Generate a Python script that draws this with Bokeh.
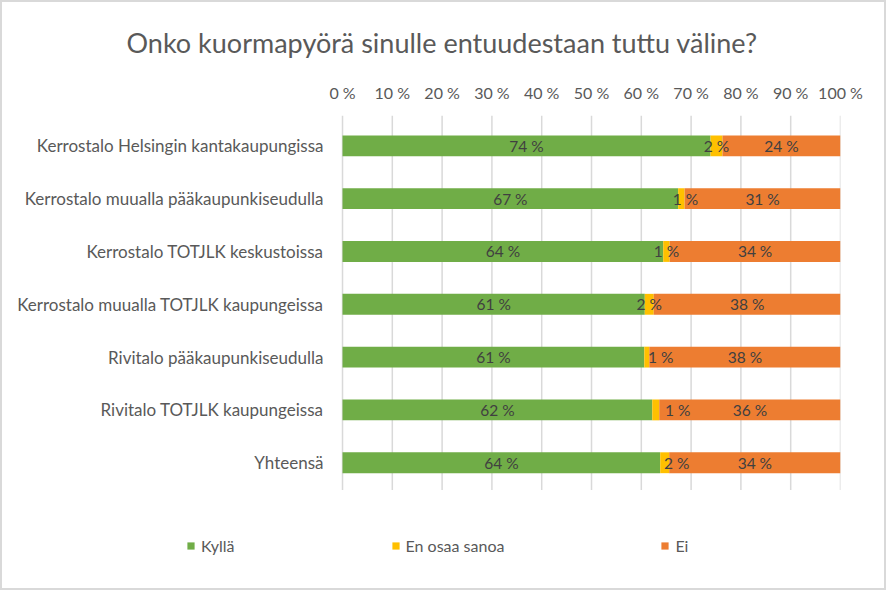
from bokeh.plotting import figure
from bokeh.models import (ColumnDataSource, Legend, LegendItem,
                          FixedTicker, Range1d)
from bokeh.core.properties import value
from bokeh.embed import file_html
from bokeh.resources import INLINE

# ---- data ----
title_text = "Onko kuormapyörä sinulle entuudestaan tuttu väline?"
categories = [
    "Kerrostalo Helsingin kantakaupungissa",
    "Kerrostalo muualla pääkaupunkiseudulla",
    "Kerrostalo TOTJLK keskustoissa",
    "Kerrostalo muualla TOTJLK kaupungeissa",
    "Rivitalo pääkaupunkiseudulla",
    "Rivitalo TOTJLK kaupungeissa",
    "Yhteensä",
]
kylla = [73.9, 67.4, 64.4, 60.7, 60.6, 62.2, 63.8]
eos = [2.4, 1.3, 1.3, 1.8, 1.0, 1.4, 1.8]
ei = [23.7, 31.3, 34.3, 37.5, 38.4, 36.4, 34.4]
series_names = ["Kyllä", "En osaa sanoa", "Ei"]
series_colors = ["#70AD47", "#FFC000", "#ED7D31"]
x_ticks = [0, 10, 20, 30, 40, 50, 60, 70, 80, 90, 100]
x_tick_labels = [f"{t} %" for t in x_ticks]

# style: pixel nudges of the data labels (as placed in the original chart)
label_dx = [
    [0, 0, 0, 0, 0, 0, 0],
    [0, 4, 0, 0, 14, 22, 12],
    [0, 0, 0, 0, 0, 0, 0],
]

FONT = "Lato"
TXT = "#404040"
GREY = "#595959"

n = len(categories)
ypos = [n - 1 - i for i in range(n)]
y_top = 6.574
y_grid_bottom = min(ypos) - 0.517

# frame spans from the left edge to the 100 % line; the left part holds
# the category labels, the bottom part holds the legend
p = figure(width=886, height=590, output_backend="svg", toolbar_location=None,
           x_range=Range1d(-66.67, 100), y_range=Range1d(-2.04, y_top),
           x_axis_location="above", y_axis_location=None,
           min_border_left=8, min_border_right=48,
           min_border_top=110, min_border_bottom=22,
           styles={"border": "2px solid #D9D9D9"})
p.outline_line_color = None
p.background_fill_color = "white"
p.border_fill_color = "white"
p.xgrid.grid_line_color = None
p.ygrid.grid_line_color = None

# title
p.title.text = title_text
p.title.align = "left"
p.title.offset = 116
p.title.standoff = 42
p.title.text_font = FONT
p.title.text_font_size = "27px"
p.title.text_font_style = "normal"
p.title.text_color = GREY

# vertical gridlines at the tick positions
p.segment(x0=x_ticks, x1=x_ticks, y0=[y_top] * len(x_ticks),
          y1=[y_grid_bottom] * len(x_ticks),
          line_color="#D9D9D9", line_width=1.5)

# top x axis
p.xaxis.ticker = FixedTicker(ticks=x_ticks)
p.xaxis.major_label_overrides = {t: l for t, l in zip(x_ticks, x_tick_labels)}
p.xaxis.axis_line_color = None
p.xaxis.major_tick_line_color = None
p.xaxis.minor_tick_line_color = None
p.xaxis.major_tick_out = 0
p.xaxis.major_label_standoff = 14
p.xaxis.major_label_text_font = FONT
p.xaxis.major_label_text_font_size = "16px"
p.xaxis.major_label_text_color = GREY

# category labels
cat_src = ColumnDataSource(dict(x=[0] * n, y=ypos, text=categories))
p.text(x="x", y="y", text="text", source=cat_src, x_offset=-19,
       text_align="right", text_baseline="middle",
       text_font=value(FONT), text_font_size="17px", text_color=GREY)

# bars
series = [kylla, eos, ei]
renderers = []
sources = []
cum = [0.0] * n
for vals, name, col, dx in zip(series, series_names, series_colors, label_dx):
    left = cum[:]
    right = [a + b for a, b in zip(cum, vals)]
    cum = right
    src = ColumnDataSource(dict(
        y=ypos, left=left, right=right,
        mid=[(a + b) / 2 for a, b in zip(left, right)],
        lab=[f"{round(v)} %" for v in vals],
        dx=dx,
    ))
    r = p.hbar(y="y", left="left", right="right", height=0.395, source=src,
               fill_color=col, line_color=None)
    renderers.append(r)
    sources.append(src)

# data labels drawn on top of all bars
for src in sources:
    p.text(x="mid", y="y", text="lab", source=src, x_offset="dx",
           text_align="center", text_baseline="middle",
           text_font=value(FONT), text_font_size="15.5px", text_color=TXT)

# legend (inside the lower part of the frame)
legend = Legend(items=[LegendItem(label=nm, renderers=[r])
                       for nm, r in zip(series_names, renderers)],
                location=(176, 15), orientation="horizontal",
                padding=0, margin=0, spacing=156,
                border_line_color=None, background_fill_alpha=0,
                glyph_width=9, glyph_height=9, label_standoff=6,
                label_text_font=FONT, label_text_font_size="16px",
                label_text_color=GREY)
p.add_layout(legend, "center")

open("out.html", "w").write(file_html(p, INLINE))
